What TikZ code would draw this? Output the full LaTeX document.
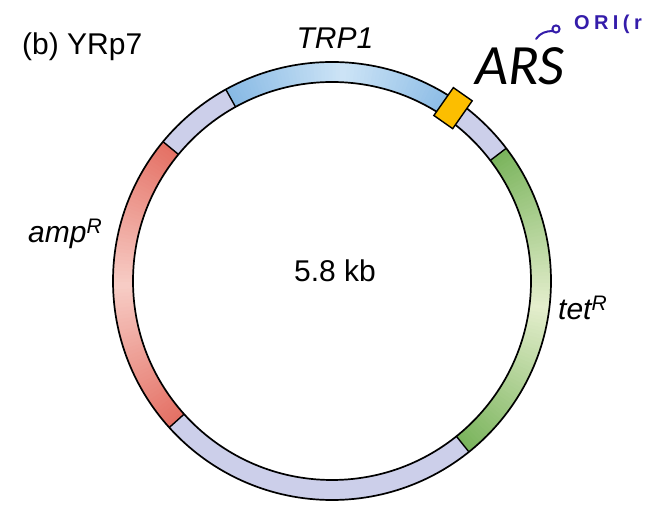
\documentclass[tikz,border=0pt]{standalone}
\usepackage{fontspec}
\setmainfont{Liberation Sans}
\newfontfamily\carlfont{Carlito}
\newfontfamily\inkfont[LetterSpace=22]{Liberation Sans}
\usetikzlibrary{calc}
\definecolor{lav}{RGB}{204,207,234}
\definecolor{bluend}{RGB}{135,185,228}
\definecolor{bluemid}{RGB}{205,228,246}
\definecolor{redend}{RGB}{228,112,100}
\definecolor{redmid}{RGB}{247,205,198}
\definecolor{grnend}{RGB}{122,180,92}
\definecolor{grnmid}{RGB}{228,238,205}
\definecolor{arsyel}{RGB}{252,190,0}
\definecolor{inkblue}{RGB}{52,28,170}
\newcommand\gradseg[4]{%
  \pgfmathsetmacro\segN{int(ceil((#2-#1)/1))}%
  \foreach \k in {1,...,\segN}{%
    \pgfmathsetmacro\segA{#1+(\k-1)*(#2-#1)/\segN}%
    \pgfmathsetmacro\segB{min(#1+\k*(#2-#1)/\segN+0.4,#2)}%
    \pgfmathsetmacro\segT{(\k-0.5)/\segN}%
    \pgfmathsetmacro\segP{100*(1-abs(2*\segT-1))}%
    \fill[#4!\segP!#3] (C) ++(\segA:199) arc[start angle=\segA,end angle=\segB,radius=199]
      -- ++(\segB:20) arc[start angle=\segB,end angle=\segA,radius=219] -- cycle;
  }}
\tikzset{
  ringline/.style={line width=1.7pt,black},
  lbl/.style={inner sep=0pt,font=\fontsize{30}{36}\selectfont},
  ilbl/.style={lbl,font=\fontsize{30}{36}\selectfont\itshape},
}
\begin{document}
\begin{tikzpicture}[x=1pt,y=1pt]
\useasboundingbox (0,0) rectangle (645,513);
\coordinate (C) at (332,232);
% lavender base ring
\fill[lav,even odd rule] (C) circle[radius=219] (C) circle[radius=199];
% coloured genes
\gradseg{55}{119}{bluend}{bluemid}
\gradseg{140.5}{222}{redend}{redmid}
\gradseg{308.7}{397.3}{grnend}{grnmid}
% outlines
\draw[ringline] (C) circle[radius=219];
\draw[ringline] (C) circle[radius=199];
\foreach \a in {119,140.5,222,308.7,37.3}{
  \draw[line width=1.4pt] (C) ++(\a:199) -- ++(\a:20);
}
% ARS box
\node (arsbox) [draw,line width=1.4pt,fill=arsyel,rotate=-35,minimum width=23,minimum height=34,inner sep=0pt] at ($(C)+(55:211)$) {};
% labels
\node (title) [lbl,anchor=base west] at (22,458) {(b) YRp7};
\node (trp) [ilbl,anchor=base] at (335,464) {TRP1};
\node (ars) [inner sep=0pt,anchor=base,font=\fontsize{57}{64}\selectfont\carlfont\itshape] at (520,428) {ARS};
\node (amp) [ilbl,anchor=base west] at (28,270) {amp\textsuperscript{R}};
\node (size) [lbl,anchor=base] at (335,231) {5.8 kb};
\node (tet) [ilbl,anchor=base west] at (558,193) {tet\textsuperscript{R}};
% handwritten annotation
\node (ori) [inner sep=0pt,anchor=base west,text=inkblue,font=\fontsize{20}{24}\selectfont\inkfont\bfseries] at (574,483) {ORI(r};
\coordinate (tail) at (536,474);
\coordinate (loop) at (556,484);
\draw[inkblue,line width=2pt,line cap=round] (tail) .. controls (540,480) and (546,482) .. (553,482);
\draw[inkblue,line width=2pt] (loop) circle[radius=3.6];
\end{tikzpicture}
\end{document}
